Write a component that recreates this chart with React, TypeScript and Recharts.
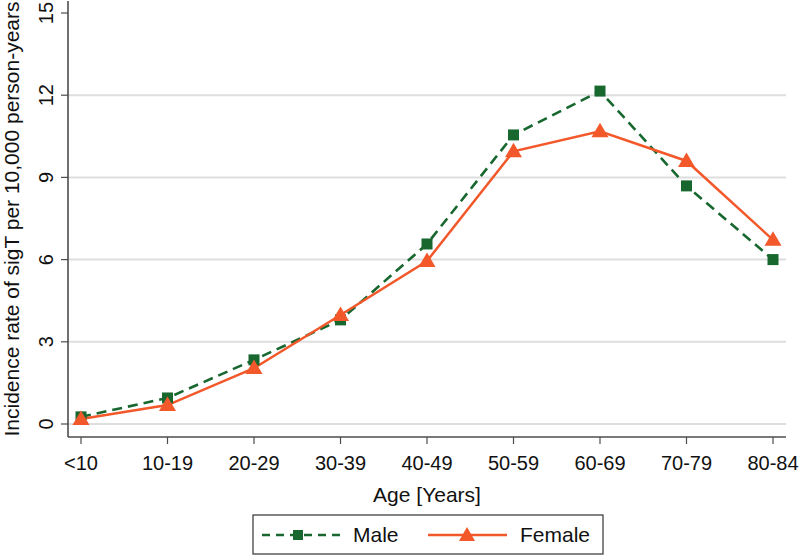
import {
  CartesianGrid,
  Label,
  Legend,
  Line,
  LineChart,
  ReferenceLine,
  XAxis,
  YAxis,
} from "recharts";

const ageGroups = ["<10", "10-19", "20-29", "30-39", "40-49", "50-59", "60-69", "70-79", "80-84"];
const maleRates = [0.26, 0.95, 2.34, 3.8, 6.57, 10.55, 12.15, 8.69, 6.0];
const femaleRates = [0.18, 0.69, 2.04, 3.98, 5.95, 9.95, 10.68, 9.6, 6.72];
const yTicks = [0, 3, 6, 9, 12, 15];
const gridValues = [0, 3, 6, 9, 12];

const GREEN = "#17672f";
const ORANGE = "#f2582a";
const FRAME = "#4d4d4d";
const FONT = "'Liberation Sans', Arial, sans-serif";

const data = ageGroups.map((age, i) => ({
  age,
  male: maleRates[i],
  female: femaleRates[i],
}));

const SquareDot = (props: any) => {
  const { cx, cy } = props;
  if (cx == null || cy == null) return null;
  return <rect x={cx - 5.5} y={cy - 5.5} width={11} height={11} fill={GREEN} />;
};

const TriangleDot = (props: any) => {
  const { cx, cy } = props;
  if (cx == null || cy == null) return null;
  return (
    <polygon
      points={`${cx},${cy - 8.5} ${cx - 8.5},${cy + 6} ${cx + 8.5},${cy + 6}`}
      fill={ORANGE}
    />
  );
};

const YTick = (props: any) => {
  const { x, y, payload } = props;
  return (
    <text
      x={0}
      y={0}
      transform={`translate(${x - 6},${y}) rotate(-90)`}
      textAnchor="middle"
      fontSize={20}
      fontFamily={FONT}
      fill="#111"
    >
      {payload.value}
    </text>
  );
};

const LegendBox = () => (
  <svg width={800} height={45} style={{ display: "block" }}>
    <rect x={253} y={3} width={350} height={39} fill="#fff" stroke="#333" strokeWidth={1.2} />
    <line x1={262} y1={23} x2={340} y2={23} stroke={GREEN} strokeWidth={2.5} strokeDasharray="8 6" />
    <rect x={293} y={18} width={10} height={10} fill={GREEN} />
    <text x={353} y={30} fontSize={21} fontFamily={FONT} fill="#111">
      Male
    </text>
    <line x1={428} y1={23} x2={507} y2={23} stroke={ORANGE} strokeWidth={2.5} />
    <polygon points="467,15 459,29 475,29" fill={ORANGE} />
    <text x={520} y={30} fontSize={21} fontFamily={FONT} fill="#111">
      Female
    </text>
  </svg>
);

export default function App() {
  return (
    <div style={{ width: 800, height: 557, background: "#fff" }}>
      <style>{"html,body{margin:0;padding:0;}"}</style>
      <LineChart
        width={800}
        height={557}
        data={data}
        margin={{ top: 1, right: 14, left: 0, bottom: 0 }}
        style={{ overflow: "visible" }}
      >
        <CartesianGrid horizontal={false} vertical={false} />
        {gridValues.map((v) => (
          <ReferenceLine key={v} y={v} stroke="#dedede" strokeWidth={2} />
        ))}
        <XAxis
          dataKey="age"
          height={75}
          padding={{ left: 13, right: 13 }}
          tickSize={7}
          tickMargin={12}
          axisLine={{ stroke: FRAME, strokeWidth: 1.6 }}
          tickLine={{ stroke: FRAME, strokeWidth: 1.2 }}
          tick={{ fontSize: 20, fontFamily: FONT, fill: "#111" }}
          interval={0}
        >
          <Label
            content={({ viewBox }: any) => (
              <text
                x={viewBox.x + viewBox.width / 2}
                y={viewBox.y + 65}
                textAnchor="middle"
                fontSize={21}
                fontFamily={FONT}
                fill="#111"
              >
                Age [Years]
              </text>
            )}
          />
        </XAxis>
        <XAxis
          xAxisId="top"
          dataKey="age"
          orientation="top"
          height={0}
          tick={false}
          tickLine={false}
          axisLine={{ stroke: FRAME, strokeWidth: 1.6 }}
        />
        <YAxis
          width={68}
          domain={[0, 15]}
          ticks={yTicks}
          padding={{ top: 12, bottom: 13 }}
          tickSize={7}
          tickMargin={2}
          axisLine={{ stroke: FRAME, strokeWidth: 1.6 }}
          tickLine={{ stroke: FRAME, strokeWidth: 1.2 }}
          tick={<YTick />}
          interval={0}
        >
          <Label
            content={({ viewBox }: any) => (
              <text
                x={0}
                y={0}
                transform={`translate(${viewBox.x + 19},${viewBox.y + viewBox.height / 2}) rotate(-90)`}
                textAnchor="middle"
                fontSize={21}
                fontFamily={FONT}
                fill="#111"
              >
                Incidence rate of sigT per 10,000 person-years
              </text>
            )}
          />
        </YAxis>
        <YAxis
          yAxisId="right"
          orientation="right"
          width={0}
          tick={false}
          tickLine={false}
          axisLine={{ stroke: FRAME, strokeWidth: 1.6 }}
        />
        <Legend
          verticalAlign="bottom"
          height={45}
          wrapperStyle={{ left: 0, bottom: 0, width: 800 }}
          content={() => <LegendBox />}
        />
        <Line
          dataKey="male"
          name="Male"
          stroke={GREEN}
          strokeWidth={2.6}
          strokeDasharray="10 6"
          dot={<SquareDot />}
          activeDot={false}
          isAnimationActive={false}
        />
        <Line
          dataKey="female"
          name="Female"
          stroke={ORANGE}
          strokeWidth={2.5}
          dot={<TriangleDot />}
          activeDot={false}
          isAnimationActive={false}
        />
      </LineChart>
    </div>
  );
}
